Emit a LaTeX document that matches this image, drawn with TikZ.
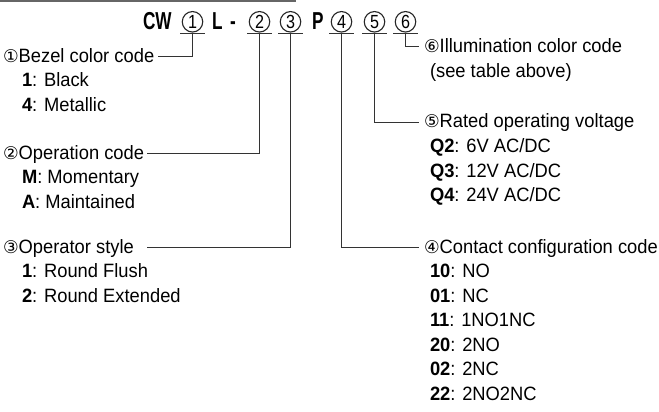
\documentclass[tikz,border=0pt]{standalone}
\usepackage{fontspec}
\setmainfont[FakeStretch=0.95]{Liberation Sans}
\newfontfamily\circfont{DejaVu Sans}
\newfontfamily\titlefont[FakeStretch=0.7]{Liberation Sans Bold}
\newfontfamily\digfont[FakeStretch=0.85]{Liberation Sans}
\begin{document}
\begin{tikzpicture}[x=1pt,y=-1pt,
  every node/.style={inner sep=0pt, outer sep=0pt},
  tlet/.style={anchor=base west, font=\titlefont\fontsize{24.5}{24}\selectfont},
  tnum/.style={circle, draw=black!85, line width=1.1pt, minimum size=20.5pt, font=\digfont\fontsize{19}{19}\selectfont},
  head/.style={anchor=base west, text height=12pt, text depth=0pt, font=\fontsize{19.3}{19}\selectfont},
  item/.style={anchor=base west, font=\fontsize{19.3}{19}\selectfont},
  conn/.style={draw=black!80, line width=1pt},
  topline/.style={draw=black!60, line width=2pt},
  uline/.style={draw=black!80, line width=1pt}]
\newcommand{\cn}[1]{{\circfont\fontsize{17.5}{17}\selectfont #1}}
\useasboundingbox (0,0) rectangle (659,412);
\coordinate (tl0) at (0,1.5);
\coordinate (tl1) at (296,1.5);
\draw[topline] (tl0) -- (tl1);
% title
\node[tlet] (cw) at (143,30) {CW};
\node[tnum] (t1) at (192.5,21.8) {1};
\node[tlet] (tL) at (212,30) {L};
\node[tlet] (tdash) at (230,30) {-};
\node[tnum] (t2) at (259.5,21.8) {2};
\node[tnum] (t3) at (290.5,21.8) {3};
\node[tlet] (tP) at (312,30) {P};
\node[tnum] (t4) at (341.5,21.8) {4};
\node[tnum] (t5) at (374.5,21.8) {5};
\node[tnum] (t6) at (405.5,21.8) {6};
\foreach \t in {t1,t2,t3,t4,t5,t6}{
  \draw[uline] ([xshift=-12.5pt,yshift=-1.5pt]\t.south) -- ([xshift=12.5pt,yshift=-1.5pt]\t.south);
}
% left headings
\node[head] (h1) at (3,63) {\cn{①}Bezel color code};
\node[item] (i11) at (22,87) {\textbf{1}: Black};
\node[item] (i12) at (22,111) {\textbf{4}: Metallic};
\node[head] (h2) at (3,159) {\cn{②}Operation code};
\node[item] (i21) at (22,183.5) {\textbf{M}: Momentary};
\node[item] (i22) at (22,208) {\textbf{A}: Maintained};
\node[head] (h3) at (3,253) {\cn{③}Operator style};
\node[item] (i31) at (22,277.5) {\textbf{1}: Round Flush};
\node[item] (i32) at (22,302) {\textbf{2}: Round Extended};
% right headings
\node[head] (h6) at (424,53) {\cn{⑥}Illumination color code};
\node[item] (i61) at (430,77.5) {(see table above)};
\node[head] (h5) at (424,128) {\cn{⑤}Rated operating voltage};
\node[item] (i51) at (430,152.5) {\textbf{Q2}: 6V AC/DC};
\node[item] (i52) at (430,177) {\textbf{Q3}: 12V AC/DC};
\node[item] (i53) at (430,201.5) {\textbf{Q4}: 24V AC/DC};
\node[head] (h4) at (424,253) {\cn{④}Contact configuration code};
\node[item] (i41) at (430,277.5) {\textbf{10}: NO};
\node[item] (i42) at (430,302) {\textbf{01}: NC};
\node[item] (i43) at (430,326.5) {\textbf{11}: 1NO1NC};
\node[item] (i44) at (430,351) {\textbf{20}: 2NO};
\node[item] (i45) at (430,375.5) {\textbf{02}: 2NC};
\node[item] (i46) at (430,400) {\textbf{22}: 2NO2NC};
% connectors
\coordinate (e2) at ([xshift=3pt]h2.east);
\draw[conn] ([yshift=-1.5pt]t1.south) |- ([xshift=4pt]h1.east);
\draw[conn] ([yshift=-1.5pt]t2.south) |- (e2);
\draw[conn] ([yshift=-1.5pt]t3.south) |- (h3.east -| e2);
\draw[conn] ([yshift=-1.5pt]t4.south) |- ([xshift=-5pt]h4.west);
\draw[conn] ([yshift=-1.5pt]t5.south) |- ([xshift=-5pt]h5.west);
\draw[conn] ([yshift=-1.5pt]t6.south) |- ([xshift=-5pt]h6.west);
\end{tikzpicture}
\end{document}
